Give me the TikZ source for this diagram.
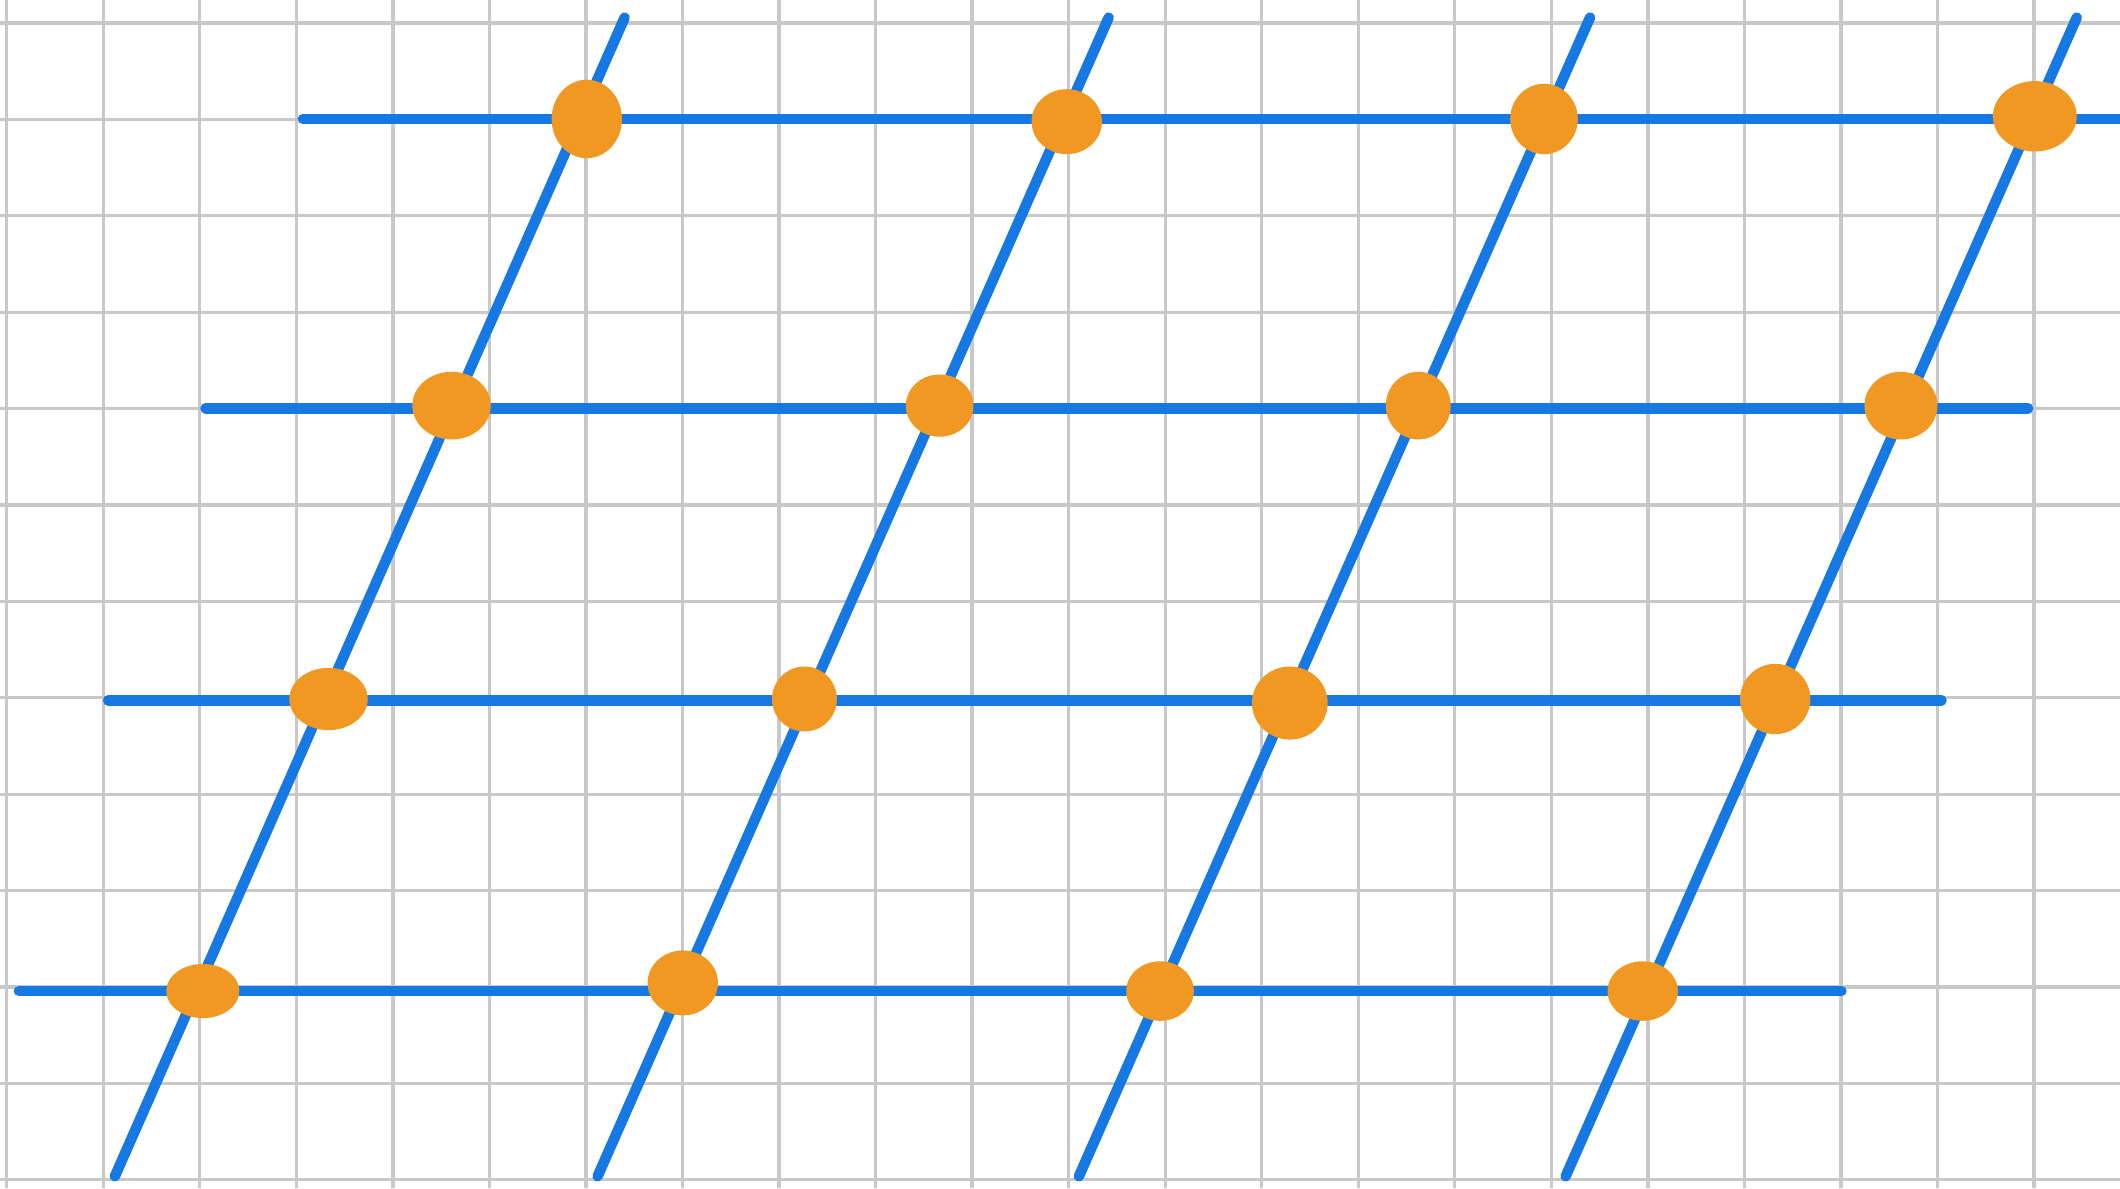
\documentclass[tikz,border=0pt]{standalone}
\usetikzlibrary{shapes.geometric}
\definecolor{gridgray}{RGB}{200,200,200}
\definecolor{lineblue}{RGB}{22,120,226}
\definecolor{dotorange}{RGB}{240,152,34}
\tikzset{
  gridline/.style={draw=gridgray, line width=0.7pt},
  latline/.style={draw=lineblue, line width=2.2pt, line cap=round},
  dotnode/.style={ellipse, fill=dotorange, inner sep=0pt, draw=none},
}
\begin{document}
\begin{tikzpicture}[x=0.01cm,y=-0.01cm]
\useasboundingbox (0,0) rectangle (1568,879);
\fill[white] (0,0) rectangle (1568,879);
% background grid
\foreach \i in {0,...,22} \draw[gridline] ({5+71.4*\i},0) -- ({5+71.4*\i},879);
\foreach \j in {0,...,12} \draw[gridline] (0,{17+71.3*\j}) -- (1568,{17+71.3*\j});
% endpoints of horizontal lines
\coordinate (h1a) at (224,88);  \coordinate (h1b) at (1572,88);
\coordinate (h2a) at (152,302); \coordinate (h2b) at (1500,302);
\coordinate (h3a) at (80,518);  \coordinate (h3b) at (1436,518);
\coordinate (h4a) at (14,733);  \coordinate (h4b) at (1362,733);
% endpoints of slanted lines
\coordinate (s1a) at (85,870);   \coordinate (s1b) at (462,13);
\coordinate (s2a) at (442,870);  \coordinate (s2b) at (820,13);
\coordinate (s3a) at (798,870);  \coordinate (s3b) at (1176,13);
\coordinate (s4a) at (1158,870); \coordinate (s4b) at (1536,13);
\foreach \k in {1,2,3,4} {
  \draw[latline] (h\k a) -- (h\k b);
  \draw[latline] (s\k a) -- (s\k b);
}
% dots
\node[dotnode, minimum width=0.52cm, minimum height=0.58cm] (d11) at (434,88) {};
\node[dotnode, minimum width=0.52cm, minimum height=0.48cm] (d12) at (789,90) {};
\node[dotnode, minimum width=0.50cm, minimum height=0.52cm] (d13) at (1142,88) {};
\node[dotnode, minimum width=0.62cm, minimum height=0.52cm] (d14) at (1505,86) {};
\node[dotnode, minimum width=0.58cm, minimum height=0.50cm] (d21) at (334,300) {};
\node[dotnode, minimum width=0.50cm, minimum height=0.46cm] (d22) at (695,300) {};
\node[dotnode, minimum width=0.48cm, minimum height=0.50cm] (d23) at (1049,300) {};
\node[dotnode, minimum width=0.54cm, minimum height=0.50cm] (d24) at (1406,300) {};
\node[dotnode, minimum width=0.58cm, minimum height=0.46cm] (d31) at (243,517) {};
\node[dotnode, minimum width=0.48cm, minimum height=0.48cm] (d32) at (595,517) {};
\node[dotnode, minimum width=0.56cm, minimum height=0.54cm] (d33) at (954,520) {};
\node[dotnode, minimum width=0.52cm, minimum height=0.52cm, rotate=20] (d34) at (1313,517) {};
\node[dotnode, minimum width=0.54cm, minimum height=0.40cm] (d41) at (150,733) {};
\node[dotnode, minimum width=0.52cm, minimum height=0.48cm] (d42) at (505,727) {};
\node[dotnode, minimum width=0.50cm, minimum height=0.44cm] (d43) at (858,733) {};
\node[dotnode, minimum width=0.52cm, minimum height=0.44cm] (d44) at (1215,733) {};
\end{tikzpicture}
\end{document}
